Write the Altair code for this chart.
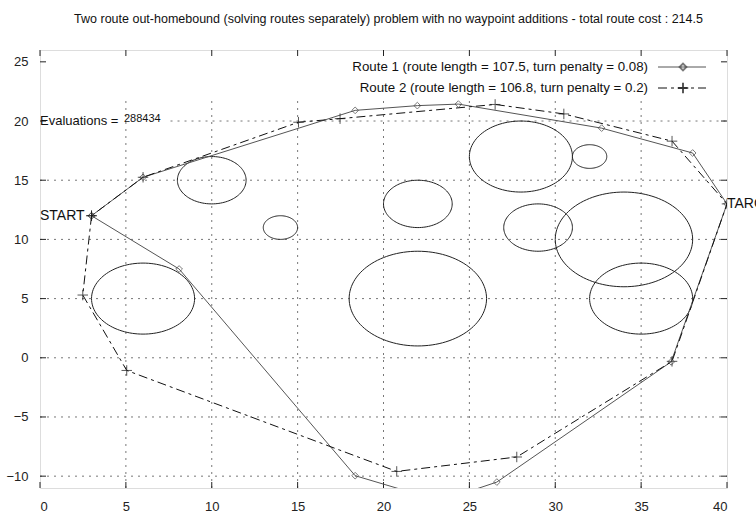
import altair as alt
import pandas as pd
import numpy as np

TITLE = "Two route out-homebound (solving routes separately) problem with no waypoint additions - total route cost : 214.5"
LEG1 = "Route 1 (route length = 107.5, turn penalty = 0.08)"
LEG2 = "Route 2 (route length = 106.8, turn penalty = 0.2)"

route1_x = [3, 8.1, 18.35, 23.3, 26.6, 36.75, 40, 38.0, 32.7, 24.36, 21.97, 18.35, 6.0, 3]
route1_y = [12, 7.5, -9.96, -12.1, -10.5, -0.34, 13, 17.3, 19.4, 21.43, 21.3, 20.9, 15.25, 12]
route2_x = [3, 2.49, 5.05, 20.77, 27.76, 36.8, 40, 36.8, 30.5, 26.5, 17.47, 15.05, 6.0, 3]
route2_y = [12, 5.3, -1.07, -9.6, -8.38, -0.3, 13, 18.3, 20.6, 21.4, 20.2, 19.9, 15.25, 12]

circle_x = [10, 14, 6, 22, 22, 28, 32, 29, 34, 35]
circle_y = [15, 11, 5, 13, 5, 17, 17, 11, 10, 5]
circle_r = [2, 1, 3, 2, 4, 3, 1, 2, 4, 3]

x_ticks = [0, 5, 10, 15, 20, 25, 30, 35, 40]
y_ticks = [-10, -5, 0, 5, 10, 15, 20, 25]

# grid lines as drawn in the reference
grid_x = [5, 10, 15, 20, 25, 30, 35]
grid_y = [-10, -5, 0, 5, 10, 15, 20]
grid_y_start = [0, 0, 0, 0, 0, 0, 7.6]

W, H = 687, 438
FONT = "Liberation Sans"

r1 = pd.DataFrame({"x": route1_x, "y": route1_y, "o": range(len(route1_x))})
r2 = pd.DataFrame({"x": route2_x, "y": route2_y, "o": range(len(route2_x))})

t = np.linspace(0, 2 * np.pi, 121)
rows = []
for i, (cx, cy, r) in enumerate(zip(circle_x, circle_y, circle_r)):
    for k, a in enumerate(t):
        rows.append({"c": i, "o": k, "x": cx + r * np.cos(a), "y": cy + r * np.sin(a)})
circ = pd.DataFrame(rows)

xs = alt.Scale(domain=[0, 40], nice=False, zero=False)
ys = alt.Scale(domain=[-11, 26], nice=False, zero=False)
xax = alt.Axis(values=x_ticks, title=None, grid=False, ticks=False, domain=False,
               labelPadding=12, labelFontSize=13, labelColor="#222", labelFont=FONT)
yax = alt.Axis(values=y_ticks, title=None, grid=False, ticks=False, domain=False,
               labelPadding=12, labelFontSize=13, labelColor="#222", labelFont=FONT)

base_axes = alt.Chart(pd.DataFrame({"x": [0], "y": [0]})).mark_point(opacity=0).encode(
    x=alt.X("x:Q", scale=xs, axis=xax), y=alt.Y("y:Q", scale=ys, axis=yax))

gv = pd.DataFrame({"v": grid_x, "lo": [-11] * len(grid_x), "hi": [21.8] * len(grid_x)})
gh = pd.DataFrame({"v": grid_y, "lo": grid_y_start, "hi": [40] * len(grid_y)})
grid_v = alt.Chart(gv).mark_rule(color="#777", strokeWidth=1, strokeDash=[2, 5]).encode(
    x=alt.X("v:Q", scale=xs), y=alt.Y("lo:Q", scale=ys), y2="hi:Q")
grid_h = alt.Chart(gh).mark_rule(color="#777", strokeWidth=1, strokeDash=[2, 5]).encode(
    y=alt.Y("v:Q", scale=ys), x=alt.X("lo:Q", scale=xs), x2="hi:Q")

circles = alt.Chart(circ).mark_line(color="#222", strokeWidth=1, clip=True).encode(
    x=alt.X("x:Q", scale=xs), y=alt.Y("y:Q", scale=ys), detail="c:N", order="o:Q")

line1 = alt.Chart(r1).mark_line(color="#555", strokeWidth=1, clip=True).encode(
    x=alt.X("x:Q", scale=xs), y=alt.Y("y:Q", scale=ys), order="o:Q")
pts1 = alt.Chart(r1).mark_point(shape="diamond", filled=False, color="#444", size=45,
                                strokeWidth=1, clip=True).encode(
    x=alt.X("x:Q", scale=xs), y=alt.Y("y:Q", scale=ys))

PLUS = "M -1 0 L 1 0 M 0 -1 L 0 1"
DASH2 = [9, 4, 3, 4]
line2 = alt.Chart(r2).mark_line(color="#111", strokeWidth=1, strokeDash=DASH2, clip=True).encode(
    x=alt.X("x:Q", scale=xs), y=alt.Y("y:Q", scale=ys), order="o:Q")
pts2 = alt.Chart(r2).mark_point(shape=PLUS, filled=False, color="#111", size=110,
                                strokeWidth=1, clip=True).encode(
    x=alt.X("x:Q", scale=xs), y=alt.Y("y:Q", scale=ys))

one = pd.DataFrame({"a": [0]})
labels = pd.DataFrame({"x": [0, 40], "y": [12, 13], "t": ["START", "TARGET"]})
lab = alt.Chart(labels).mark_text(align="left", baseline="middle", fontSize=14, font=FONT,
                                  color="#111").encode(
    x=alt.X("x:Q", scale=xs), y=alt.Y("y:Q", scale=ys), text="t:N")

ev = pd.DataFrame({"x": [0], "y": [20]})
ev1 = alt.Chart(ev).mark_text(align="left", baseline="middle", fontSize=13, font=FONT,
                              color="#111", text="Evaluations =").encode(
    x=alt.X("x:Q", scale=xs), y=alt.Y("y:Q", scale=ys))
ev2 = alt.Chart(ev).mark_text(align="left", baseline="middle", fontSize=11, font=FONT,
                              color="#111", text="288434", dx=84, dy=-2).encode(
    x=alt.X("x:Q", scale=xs), y=alt.Y("y:Q", scale=ys))

leg_t1 = alt.Chart(one).mark_text(align="right", baseline="middle", fontSize=13.3, font=FONT,
                                  color="#111", text=LEG1).encode(x=alt.value(608), y=alt.value(17))
leg_t2 = alt.Chart(one).mark_text(align="right", baseline="middle", fontSize=13.3, font=FONT,
                                  color="#111", text=LEG2).encode(x=alt.value(608), y=alt.value(38))
leg_l1 = alt.Chart(one).mark_rule(color="#555", strokeWidth=1).encode(
    x=alt.value(618), x2=alt.value(666), y=alt.value(17))
leg_l2 = alt.Chart(one).mark_rule(color="#111", strokeWidth=1, strokeDash=DASH2).encode(
    x=alt.value(618), x2=alt.value(666), y=alt.value(38))
leg_p1 = alt.Chart(one).mark_point(shape="diamond", filled=False, color="#444", size=45).encode(
    x=alt.value(643), y=alt.value(17))
leg_p2 = alt.Chart(one).mark_point(shape=PLUS, filled=False, color="#111", size=110).encode(
    x=alt.value(643), y=alt.value(38))

# inward ticks on all four sides
xt = pd.DataFrame({"v": x_ticks})
yt = pd.DataFrame({"v": y_ticks})
tick_b = alt.Chart(xt).mark_rule(color="#222").encode(
    x=alt.X("v:Q", scale=xs), y=alt.value(H), y2=alt.value(H - 6))
tick_t = alt.Chart(xt).mark_rule(color="#222").encode(
    x=alt.X("v:Q", scale=xs), y=alt.value(0), y2=alt.value(6))
tick_l = alt.Chart(yt).mark_rule(color="#222").encode(
    y=alt.Y("v:Q", scale=ys), x=alt.value(0), x2=alt.value(6))
tick_r = alt.Chart(yt).mark_rule(color="#222").encode(
    y=alt.Y("v:Q", scale=ys), x=alt.value(W), x2=alt.value(W - 6))

chart = alt.layer(
    base_axes, grid_v, grid_h, tick_b, tick_t, tick_l, tick_r, circles, line1, line2, pts1, pts2,
    lab, ev1, ev2, leg_t1, leg_t2, leg_l1, leg_l2, leg_p1, leg_p2
).properties(
    width=W, height=H,
    title=alt.TitleParams(TITLE, font=FONT, fontSize=12.5, fontWeight="normal", color="#111",
                          anchor="middle", offset=24, dx=5),
    autosize=alt.AutoSizeParams(type="none"),
    padding={"left": 40, "top": 50, "right": 29, "bottom": 30},
).configure_view(stroke="#222", strokeWidth=1).configure(background="white")

chart.save("out.html", embed_options={"renderer": "svg", "actions": False})
